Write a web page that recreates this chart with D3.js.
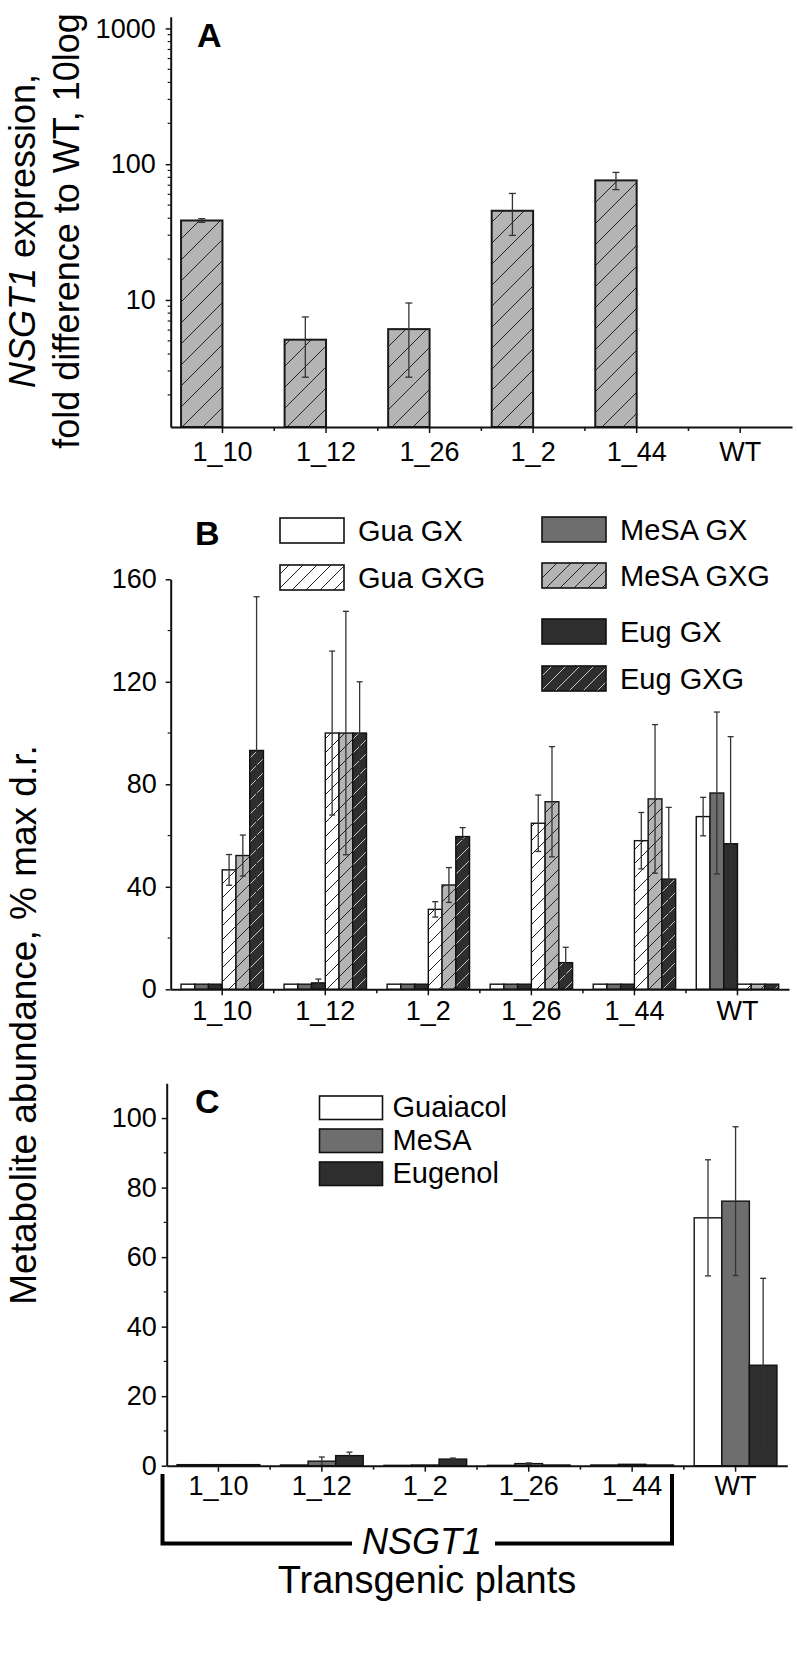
<!DOCTYPE html>
<html>
<head>
<meta charset="utf-8">
<script src="https://cdn.jsdelivr.net/npm/d3@7"></script>
<style>
  body { margin: 0; background: #fff; }
  svg text { font-family: "Liberation Sans", Arial, Helvetica, sans-serif; fill: #000; }
</style>
</head>
<body>
<svg id="fig" width="797" height="1653"></svg>
<script>
// ---- data ----
// panel A: NSGT1 expression (log scale)
const linesA = ["1_10", "1_12", "1_26", "1_2", "1_44", "WT"];
const exprA = [38.5, 5.1, 6.1, 45.4, 76, null];
const exprErrA = [1.2, 2.4, 3.4, 15.5, 11, null];
const ticksA = [10, 100, 1000];

// panel B: glycosides, % max d.r.
const linesB = ["1_10", "1_12", "1_2", "1_26", "1_44", "WT"];
const seriesB = ["Gua GX", "MeSA GX", "Eug GX", "Gua GXG", "MeSA GXG", "Eug GXG"];
const guaGX = [2, 2, 2, 2, 2, 67.4];
const guaGXErr = [0, 0, 0, 0, 0, 7.5];
const mesaGX = [2, 2, 2, 2, 2, 76.6];
const mesaGXErr = [0, 0, 0, 0, 0, 31.6];
const eugGX = [2, 2.5, 2, 2, 2, 56.8];
const eugGXErr = [0, 1.5, 0, 0, 0, 41.8];
const guaGXG = [46.6, 100, 31.2, 64.8, 58, 2];
const guaGXGErr = [6, 32, 3, 11, 11, 0];
const mesaGXG = [52.2, 100, 40.7, 73.2, 74.3, 2];
const mesaGXGErr = [8, 47.5, 6.8, 21.5, 29, 0];
const eugGXG = [93.2, 100, 59.6, 10.4, 43, 2];
const eugGXGErr = [60, 20, 3.5, 6, 28, 0];
const ticksB = [0, 40, 80, 120, 160];

// panel C: free volatiles
const linesC = ["1_10", "1_12", "1_2", "1_26", "1_44", "WT"];
const seriesC = ["Guaiacol", "MeSA", "Eugenol"];
const guaiacol = [0.3, 0.2, 0.1, 0.1, 0.2, 71.3];
const guaiacolErr = [0, 0, 0, 0, 0, 16.7];
const mesa = [0.3, 1.3, 0.2, 0.6, 0.4, 76.1];
const mesaErr = [0, 1.2, 0, 0.2, 0, 21.4];
const eugenol = [0.3, 2.9, 1.9, 0.2, 0.2, 28.9];
const eugenolErr = [0, 1, 0.3, 0, 0, 25];
const ticksC = [0, 20, 40, 60, 80, 100];

const svg = d3.select("#fig");
const defs = svg.append("defs");

// diagonal hatch fills
function hatch(id, size, fill, stroke) {
    var p = defs.append("pattern")
        .attr("id", id)
        .attr("patternUnits", "userSpaceOnUse")
        .attr("width", size)
        .attr("height", size);
    p.append("rect").attr("width", size).attr("height", size).attr("fill", fill);
    p.append("path")
        .attr("d", "M0," + size + " L" + size + ",0 M-1,1 L1,-1 M" + (size - 1) + "," + (size + 1) + " L" + (size + 1) + "," + (size - 1))
        .attr("stroke", stroke)
        .attr("stroke-width", 1);
}
hatch("hA", 21, "#b4b4b4", "#222");
hatch("hW", 14, "#ffffff", "#222");
hatch("hL", 14, "#b4b4b4", "#222");
hatch("hD", 14, "#2e2e2e", "#c8c8c8");

const fillsB = ["#ffffff", "#6e6e6e", "#2e2e2e", "url(#hW)", "url(#hL)", "url(#hD)"];
const fillsC = ["#ffffff", "#6e6e6e", "#2e2e2e"];

function styleAxis(g, fs) {
    g.select(".domain").attr("stroke", "#111").attr("stroke-width", 2);
    g.selectAll(".tick line").attr("stroke", "#111").attr("stroke-width", 1.5);
    g.selectAll(".tick text").attr("font-size", fs).attr("fill", "#000")
        .attr("font-family", "'Liberation Sans', Arial, sans-serif");
}

function errorBar(g, x, yTop, yBot, cap) {
    g.append("line").attr("x1", x).attr("x2", x).attr("y1", yTop).attr("y2", yBot)
        .attr("stroke", "#333").attr("stroke-width", 1.3);
    g.append("line").attr("x1", x - cap).attr("x2", x + cap).attr("y1", yTop).attr("y2", yTop)
        .attr("stroke", "#333").attr("stroke-width", 1.3);
    g.append("line").attr("x1", x - cap).attr("x2", x + cap).attr("y1", yBot).attr("y2", yBot)
        .attr("stroke", "#333").attr("stroke-width", 1.3);
}

function xMinor(g, xScale, cats, y0) {
    cats.slice(0, -1).forEach(function (c) {
        var xm = xScale(c) + xScale.bandwidth() + xScale.step() * 0.1;
        g.append("line").attr("x1", xm).attr("x2", xm).attr("y1", y0).attr("y2", y0 + 4)
            .attr("stroke", "#111").attr("stroke-width", 1.5);
    });
}

function yMinor(g, yScale, vals, x0) {
    vals.forEach(function (v) {
        g.append("line").attr("x1", x0 - 3).attr("x2", x0).attr("y1", yScale(v)).attr("y2", yScale(v))
            .attr("stroke", "#111").attr("stroke-width", 1.2);
    });
}

// ================= panel A =================
const axA = 170.7, baseA = 427;
const xA = d3.scaleBand().domain(linesA).range([axA, 792]).paddingInner(0.2).paddingOuter(0.1);
const yA = d3.scaleLog().domain([1.16, 1220]).range([baseA, 16.7]);
const gA = svg.append("g");

const dataA = linesA.map(function (c, i) { return { c: c, v: exprA[i], e: exprErrA[i] }; })
    .filter(function (d) { return d.v != null; });

gA.selectAll(".barA").data(dataA).enter().append("rect")
    .attr("class", "barA")
    .attr("x", function (d) { return xA(d.c); })
    .attr("y", function (d) { return yA(d.v); })
    .attr("width", xA.bandwidth() / 2)
    .attr("height", function (d) { return baseA - yA(d.v); })
    .attr("fill", "url(#hA)")
    .attr("stroke", "#1a1a1a")
    .attr("stroke-width", 2);

dataA.forEach(function (d) {
    errorBar(gA, xA(d.c) + xA.bandwidth() / 4, yA(d.v + d.e), yA(d.v - d.e), 3.5);
});

var minorA = [];
[1, 10, 100].forEach(function (k) {
    for (let m = 2; m <= 9; m++) { if (m * k > 1.16 && m * k < 1220) minorA.push(m * k); }
});
yMinor(gA, yA, minorA, axA);

gA.append("g").attr("transform", "translate(" + axA + ",0)")
    .call(d3.axisLeft(yA).tickValues(ticksA).tickFormat(d3.format("d")).tickSize(5).tickPadding(10).tickSizeOuter(0))
    .call(function (g) { styleAxis(g, 27); });

gA.append("g").attr("transform", "translate(0," + baseA + ")")
    .call(d3.axisBottom(xA).tickSize(6).tickPadding(8.5).tickSizeOuter(0))
    .call(function (g) { styleAxis(g, 27); });
xMinor(gA, xA, linesA, baseA);

gA.append("text").attr("x", 197).attr("y", 47).attr("font-size", 34).attr("font-weight", "bold").text("A");

var tA1 = gA.append("text").attr("transform", "translate(35,231) rotate(-90)")
    .attr("text-anchor", "middle").attr("font-size", 36);
tA1.append("tspan").attr("font-style", "italic").text("NSGT1");
tA1.append("tspan").text(" expression,");
gA.append("text").attr("transform", "translate(79,231) rotate(-90)")
    .attr("text-anchor", "middle").attr("font-size", 36).text("fold difference to WT, 10log");

// ================= panel B =================
const axB = 170.7, baseB = 989.3;
const xB = d3.scaleBand().domain(linesB).range([axB, 789]).paddingInner(0.2).paddingOuter(0.1);
const x1B = d3.scaleBand().domain(seriesB).range([0, xB.bandwidth()]);
const yB = d3.scaleLinear().domain([0, 160]).range([baseB, 579.3]);
const gB = svg.append("g");

const valsB = [guaGX, mesaGX, eugGX, guaGXG, mesaGXG, eugGXG];
const errsB = [guaGXErr, mesaGXErr, eugGXErr, guaGXGErr, mesaGXGErr, eugGXGErr];
const dataB = [];
linesB.forEach(function (c, i) {
    seriesB.forEach(function (s, j) {
        dataB.push({ c: c, s: s, j: j, v: valsB[j][i], e: errsB[j][i] });
    });
});

gB.selectAll(".barB").data(dataB).enter().append("rect")
    .attr("class", "barB")
    .attr("x", function (d) { return xB(d.c) + x1B(d.s); })
    .attr("y", function (d) { return yB(d.v); })
    .attr("width", x1B.bandwidth())
    .attr("height", function (d) { return baseB - yB(d.v); })
    .attr("fill", function (d) { return fillsB[d.j]; })
    .attr("stroke", "#111")
    .attr("stroke-width", 1.4);

dataB.filter(function (d) { return d.e > 0; }).forEach(function (d) {
    errorBar(gB, xB(d.c) + x1B(d.s) + x1B.bandwidth() / 2, yB(d.v + d.e), yB(Math.max(0, d.v - d.e)), 3);
});

yMinor(gB, yB, [20, 60, 100, 140], axB);
gB.append("g").attr("transform", "translate(" + axB + ",0)")
    .call(d3.axisLeft(yB).tickValues(ticksB).tickSize(5).tickPadding(9).tickSizeOuter(0))
    .call(function (g) { styleAxis(g, 27); });
gB.append("g").attr("transform", "translate(0," + baseB + ")")
    .call(d3.axisBottom(xB).tickSize(6).tickPadding(6).tickSizeOuter(0))
    .call(function (g) { styleAxis(g, 27); });
xMinor(gB, xB, linesB, baseB);

gB.append("text").attr("x", 195).attr("y", 545).attr("font-size", 34).attr("font-weight", "bold").text("B");

// legend B: two columns
const legColB = [280, 280, 542, 542, 542, 542];
const legRowB = [518, 565, 517, 563, 619, 666];
const legOrderB = [0, 3, 1, 4, 2, 5];
legOrderB.forEach(function (j, k) {
    gB.append("rect").attr("x", legColB[k]).attr("y", legRowB[k]).attr("width", 64).attr("height", 25)
        .attr("fill", fillsB[j]).attr("stroke", "#111").attr("stroke-width", 1.6);
    gB.append("text").attr("x", legColB[k] + 78).attr("y", legRowB[k] + 23).attr("font-size", 29).text(seriesB[j]);
});

// ================= panel C =================
const axC = 166.7, baseC = 1465.7;
const xC = d3.scaleBand().domain(linesC).range([axC, 787.3]).paddingInner(0.2).paddingOuter(0.1);
const x1C = d3.scaleBand().domain(seriesC).range([0, xC.bandwidth()]);
const yC = d3.scaleLinear().domain([0, 110]).range([baseC, 1083.3]);
const gC = svg.append("g");

const valsC = [guaiacol, mesa, eugenol];
const errsC = [guaiacolErr, mesaErr, eugenolErr];
const dataC = [];
linesC.forEach(function (c, i) {
    seriesC.forEach(function (s, j) {
        dataC.push({ c: c, s: s, j: j, v: valsC[j][i], e: errsC[j][i] });
    });
});

gC.selectAll(".barC").data(dataC).enter().append("rect")
    .attr("class", "barC")
    .attr("x", function (d) { return xC(d.c) + x1C(d.s); })
    .attr("y", function (d) { return yC(d.v); })
    .attr("width", x1C.bandwidth())
    .attr("height", function (d) { return baseC - yC(d.v); })
    .attr("fill", function (d) { return fillsC[d.j]; })
    .attr("stroke", "#111")
    .attr("stroke-width", 1.4);

dataC.filter(function (d) { return d.e > 0; }).forEach(function (d) {
    errorBar(gC, xC(d.c) + x1C(d.s) + x1C.bandwidth() / 2, yC(d.v + d.e), yC(Math.max(0, d.v - d.e)), 3);
});

yMinor(gC, yC, [10, 30, 50, 70, 90], axC);
gC.append("g").attr("transform", "translate(" + axC + ",0)")
    .call(d3.axisLeft(yC).tickValues(ticksC).tickSize(5).tickPadding(5).tickSizeOuter(0))
    .call(function (g) { styleAxis(g, 27); });
gC.append("g").attr("transform", "translate(0," + baseC + ")")
    .call(d3.axisBottom(xC).tickSize(6).tickPadding(4).tickSizeOuter(0))
    .call(function (g) { styleAxis(g, 27); });
xMinor(gC, xC, linesC, baseC);

gC.append("text").attr("x", 195).attr("y", 1113).attr("font-size", 34).attr("font-weight", "bold").text("C");

const legRowC = [1096, 1129, 1162];
seriesC.forEach(function (s, j) {
    gC.append("rect").attr("x", 319.5).attr("y", legRowC[j]).attr("width", 63).attr("height", 23.5)
        .attr("fill", fillsC[j]).attr("stroke", "#111").attr("stroke-width", 1.6);
    gC.append("text").attr("x", 392.5).attr("y", legRowC[j] + 21).attr("font-size", 29).text(s);
});

// shared y title for B and C
svg.append("text").attr("transform", "translate(36,1025) rotate(-90)")
    .attr("text-anchor", "middle").attr("font-size", 37).text("Metabolite abundance, % max d.r.");

// bracket grouping transgenic lines
svg.append("path")
    .attr("d", "M162.5,1474 V1543.5 H352 M495,1543.5 H672 V1474")
    .attr("fill", "none").attr("stroke", "#000").attr("stroke-width", 4);
svg.append("text").attr("x", 422).attr("y", 1554).attr("text-anchor", "middle")
    .attr("font-size", 36).attr("font-style", "italic").text("NSGT1");
svg.append("text").attr("x", 427).attr("y", 1593).attr("text-anchor", "middle")
    .attr("font-size", 38).text("Transgenic plants");
</script>
</body>
</html>
